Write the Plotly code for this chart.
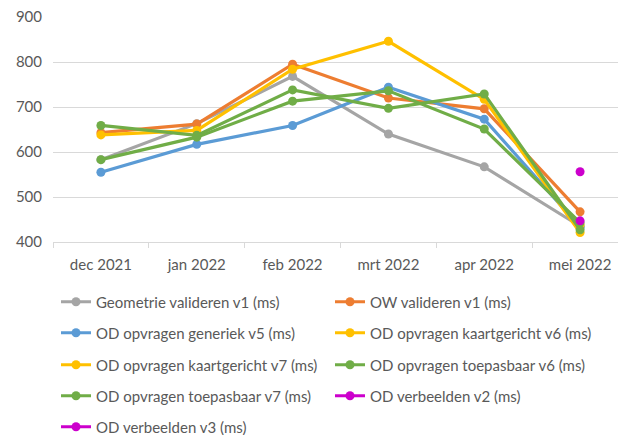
import plotly.graph_objects as go

months = ["dec 2021", "jan 2022", "feb 2022", "mrt 2022", "apr 2022", "mei 2022"]

geometrie_v1 = [583, 663, 768, 640, 567, 435]
ow_v1 = [643, 662, 795, 720, 696, 467]
generiek_v5 = [555, 617, 659, 744, 673, 433]
kaart_v6 = [638, 648, 784, 846, 717, 421]
kaart_v7 = [None, None, None, None, None, 438]
toepas_v6 = [659, 637, 738, 697, 729, 427]
toepas_v7 = [583, 633, 713, 736, 651, 443]
verb_v2 = [None, None, None, None, None, 556]
verb_v3 = [None, None, None, None, None, 447]

series = [
    ("Geometrie valideren v1 (ms)", geometrie_v1, "#A5A5A5", "legend"),
    ("OW valideren v1 (ms)", ow_v1, "#ED7D31", "legend"),
    ("OD opvragen generiek v5 (ms)", generiek_v5, "#5B9BD5", "legend2"),
    ("OD opvragen kaartgericht v6 (ms)", kaart_v6, "#FFC000", "legend2"),
    ("OD opvragen kaartgericht v7 (ms)", kaart_v7, "#FFC000", "legend3"),
    ("OD opvragen toepasbaar v6 (ms)", toepas_v6, "#70AD47", "legend3"),
    ("OD opvragen toepasbaar v7 (ms)", toepas_v7, "#70AD47", "legend4"),
    ("OD verbeelden v2 (ms)", verb_v2, "#CC00CC", "legend4"),
    ("OD verbeelden v3 (ms)", verb_v3, "#CC00CC", "legend5"),
]

fig = go.Figure()
for name, vals, col, lg in series:
    fig.add_trace(go.Scatter(
        x=months, y=vals, name=name, mode="lines+markers",
        line=dict(color=col, width=3.2),
        marker=dict(color=col, size=9),
        legend=lg,
    ))

font_col = "#595959"
W, H = 620, 427
row_y = [302, 333, 365, 396, 427]  # page pixel centres of legend rows
legend_common = dict(
    orientation="h", xref="container", yref="container",
    x=(56 - 8) / W, xanchor="left", yanchor="middle",
    entrywidth=229, entrywidthmode="pixels",
    font=dict(family="Lato", size=15, color=font_col),
    bgcolor="rgba(0,0,0,0)",
)
legends = {}
for i, ry in enumerate(row_y):
    key = "legend" if i == 0 else f"legend{i+1}"
    legends[key] = dict(legend_common, y=1 - (ry - 8) / H)

fig.update_layout(
    width=W, height=H,
    margin=dict(l=45, r=0, t=9, b=193),
    paper_bgcolor="white", plot_bgcolor="white",
    font=dict(family="Lato", size=15, color=font_col),
    showlegend=True,
    xaxis=dict(
        type="category", showgrid=False, showline=True, linecolor="#D9D9D9",
        linewidth=1, ticks="outside", tickson="boundaries", ticklen=5,
        tickcolor="#D9D9D9", range=[-0.5, 5.5],
        tickfont=dict(size=15, color=font_col),
        ticklabelstandoff=9, ticklabeloverflow="allow",
    ),
    yaxis=dict(
        range=[400, 900], dtick=100, showgrid=True, gridcolor="#D9D9D9",
        gridwidth=1, zeroline=False, showline=False,
        tickfont=dict(size=15, color=font_col),
        ticklabelstandoff=10, ticklabeloverflow="allow",
    ),
    **legends,
)

fig.write_html("out.html")
